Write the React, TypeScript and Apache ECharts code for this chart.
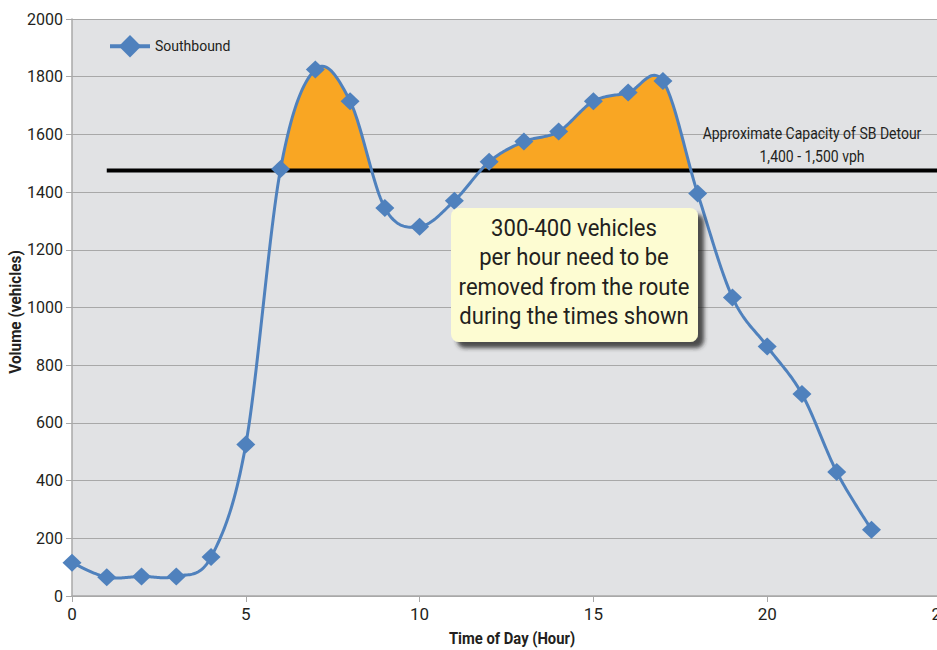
import React, { useEffect, useRef } from "react";
import * as echarts from "echarts";

const hours = [0, 1, 2, 3, 4, 5, 6, 7, 8, 9, 10, 11, 12, 13, 14, 15, 16, 17, 18, 19, 20, 21, 22, 23];
const southbound = [115, 65, 68, 68, 135, 525, 1480, 1825, 1715, 1345, 1280, 1370, 1505, 1575, 1610, 1715, 1745, 1785, 1395, 1035, 865, 700, 430, 230];
const capacity = 1475;
const capacityRange = [1, 25];
const yTicks = [0, 200, 400, 600, 800, 1000, 1200, 1400, 1600, 1800, 2000];
const calloutLines = ["300-400 vehicles", "per hour need to be", "removed from the route", "during the times shown"];
const capacityLabel = ["Approximate Capacity of SB Detour", "1,400 - 1,500 vph"];

const FONT = "Roboto, 'Liberation Sans', sans-serif";
const ORANGE = "#F9A623";
const BLUE = "#4F81BD";
const TEXT = "#231F20";

// Excel-like smoothing (Catmull-Rom as cubic Bezier, tension 1/6), in pixel space
function smoothPath(p: number[][], steps = 24): number[][] {
  const out: number[][] = [];
  const n = p.length;
  for (let i = 0; i < n - 1; i++) {
    const p0 = p[Math.max(0, i - 1)];
    const p1 = p[i];
    const p2 = p[i + 1];
    const p3 = p[Math.min(n - 1, i + 2)];
    const c1 = [p1[0] + (p2[0] - p0[0]) / 6, p1[1] + (p2[1] - p0[1]) / 6];
    const c2 = [p2[0] - (p3[0] - p1[0]) / 6, p2[1] - (p3[1] - p1[1]) / 6];
    for (let s = i === 0 ? 0 : 1; s <= steps; s++) {
      const t = s / steps;
      const u = 1 - t;
      const a = u * u * u, b = 3 * u * u * t, c = 3 * u * t * t, d = t * t * t;
      out.push([
        a * p1[0] + b * c1[0] + c * c2[0] + d * p2[0],
        a * p1[1] + b * c1[1] + c * c2[1] + d * p2[1],
      ]);
    }
  }
  return out;
}

function pixelPoints(api: any): number[][] {
  return hours.map((h, i) => api.coord([h, southbound[i]]));
}

function renderCurve(_params: any, api: any) {
  const pts = smoothPath(pixelPoints(api));
  return {
    type: "polyline",
    shape: { points: pts },
    style: { stroke: BLUE, lineWidth: 3, fill: "none" },
  };
}

function renderFill(_params: any, api: any) {
  const pts = smoothPath(pixelPoints(api));
  const yc = api.coord([0, capacity])[1];
  const polys: number[][][] = [];
  let cur: number[][] | null = null;
  for (let i = 0; i < pts.length; i++) {
    const q = pts[i];
    const above = q[1] < yc;
    if (above) {
      if (!cur) {
        cur = [];
        if (i > 0) {
          const pr = pts[i - 1];
          const t = (yc - pr[1]) / (q[1] - pr[1]);
          cur.push([pr[0] + t * (q[0] - pr[0]), yc]);
        } else cur.push([q[0], yc]);
      }
      cur.push(q);
    } else if (cur) {
      const pr = pts[i - 1];
      const t = (yc - pr[1]) / (q[1] - pr[1]);
      cur.push([pr[0] + t * (q[0] - pr[0]), yc]);
      polys.push(cur);
      cur = null;
    }
  }
  if (cur) {
    cur.push([cur[cur.length - 1][0], yc]);
    polys.push(cur);
  }
  return {
    type: "group",
    children: polys.map((pl) => ({
      type: "polygon",
      shape: { points: pl },
      style: { fill: ORANGE, stroke: "none" },
    })),
  };
}

export default function App() {
  const ref = useRef<HTMLDivElement>(null);
  useEffect(() => {
    if (!ref.current) return;
    const chart = echarts.init(ref.current, undefined, { renderer: "svg" });
    const pts = hours.map((h, i) => [h, southbound[i]]);
    chart.setOption({
      animation: false,
      backgroundColor: "#ffffff",
      textStyle: { fontFamily: FONT },
      grid: {
        left: 72,
        right: -4,
        top: 19,
        bottom: 54,
        backgroundColor: "#E1E2E4",
        show: true,
        borderWidth: 0,
        outerBoundsMode: "none",
        containLabel: false,
      },
      legend: {
        data: [
          {
            name: "Southbound",
            lineStyle: { color: BLUE, width: 4, opacity: 1 },
            itemStyle: { color: BLUE },
          },
        ],
        left: 103,
        top: 30,
        itemWidth: 40,
        itemHeight: 28,
        itemGap: 10,
        textStyle: { fontFamily: FONT, fontSize: 14, color: TEXT },
      },
      xAxis: {
        type: "value",
        min: 0,
        max: 25,
        interval: 5,
        axisLine: { lineStyle: { color: "#A8A8A8", width: 1.5 } },
        axisTick: { show: true, length: 6, lineStyle: { color: "#A8A8A8" } },
        axisLabel: { fontFamily: FONT, fontSize: 17, color: TEXT, margin: 9 },
        splitLine: { show: false },
      },
      yAxis: {
        type: "value",
        min: yTicks[0],
        max: yTicks[yTicks.length - 1],
        interval: 200,
        axisLine: { show: true, lineStyle: { color: "#A8A8A8", width: 1.5 } },
        axisTick: { show: true, length: 6, lineStyle: { color: "#A8A8A8" } },
        axisLabel: { fontFamily: FONT, fontSize: 16, color: TEXT, margin: 9, formatter: (v: number) => String(v) },
        splitLine: { lineStyle: { color: "#A8A8A8", width: 1 } },
      },
      series: [
        {
          name: "fill",
          type: "custom",
          data: [[0, 0]],
          renderItem: renderFill,
          z: 2,
          silent: true,
        },
        {
          name: "capacity",
          type: "line",
          data: capacityRange.map((x) => [x, capacity]),
          symbol: "none",
          lineStyle: { color: "#000", width: 4 },
          z: 3,
          silent: true,
        },
        {
          name: "curve",
          type: "custom",
          data: [[0, 0]],
          renderItem: renderCurve,
          z: 4,
          silent: true,
        },
        {
          name: "Southbound",
          type: "line",
          data: pts,
          symbol: "diamond",
          symbolSize: [19, 18],
          itemStyle: { color: BLUE },
          lineStyle: { color: BLUE, width: 0, opacity: 0 },
          z: 5,
        },
      ],
      graphic: [
        {
          type: "text",
          x: 15,
          y: 312,
          rotation: Math.PI / 2,
          scaleX: 0.9,
          style: {
            text: "Volume (vehicles)",
            fontFamily: FONT,
            fontSize: 17,
            fontWeight: "bold",
            fill: TEXT,
            align: "center",
            verticalAlign: "middle",
          },
        },
        {
          type: "text",
          x: 512,
          y: 638,
          scaleX: 0.87,
          style: {
            text: "Time of Day (Hour)",
            fontFamily: FONT,
            fontSize: 17,
            fontWeight: "bold",
            fill: TEXT,
            align: "center",
            verticalAlign: "middle",
          },
        },
        {
          type: "text",
          x: 812,
          y: 145,
          z: 10,
          scaleX: 0.875,
          style: {
            text: capacityLabel.join("\n"),
            fontFamily: FONT,
            fontSize: 16,
            lineHeight: 23,
            fill: TEXT,
            align: "center",
            verticalAlign: "middle",
          },
        },
        {
          type: "rect",
          z: 20,
          shape: { x: 451, y: 208, width: 247, height: 134, r: 8 },
          style: {
            fill: "#FDFCD2",
            shadowBlur: 4,
            shadowOffsetX: 6,
            shadowOffsetY: 6,
            shadowColor: "rgba(40,40,40,0.8)",
          },
        },
        {
          type: "text",
          z: 21,
          x: 574,
          y: 272,
          scaleX: 0.92,
          style: {
            text: calloutLines.join("\n"),
            fontFamily: FONT,
            fontSize: 24,
            lineHeight: 29.5,
            fill: TEXT,
            align: "center",
            verticalAlign: "middle",
          },
        },
      ],
    });
    return () => chart.dispose();
  }, []);
  return <div ref={ref} style={{ width: 937, height: 650, position: "absolute", left: 0, top: 0 }} />;
}
